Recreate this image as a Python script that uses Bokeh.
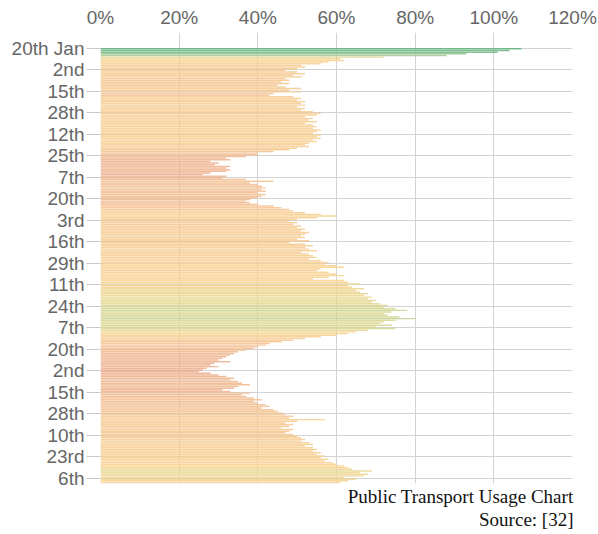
from bokeh.plotting import figure
from bokeh.models import (Range1d, FixedTicker, PrintfTickFormatter, Title,
                          ColumnDataSource, LinearColorMapper)
from bokeh.transform import transform
from bokeh.embed import file_html
from bokeh.resources import INLINE

# Daily public transport usage (% of normal), one value per day from 20th Jan
usage_pct = [
    107, 104, 101, 93, 88, 72, 61, 62, 58, 56,
    51, 52, 50, 47, 50, 52, 49, 51, 47, 48,
    46, 48, 45, 47, 51, 48, 51, 44, 43, 49,
    51, 50, 52, 51, 52, 50, 52, 51, 54, 56,
    55, 52, 54, 53, 55, 52, 54, 55, 54, 56,
    55, 54, 56, 55, 56, 54, 55, 53, 52, 53,
    50, 48, 44, 40, 40, 37, 32, 33, 28, 30,
    29, 33, 32, 33, 32, 28, 26, 32, 31, 37,
    44, 38, 40, 41, 42, 41, 42, 40, 42, 41,
    40, 38, 37, 38, 40, 44, 46, 48, 49, 52,
    56, 60, 55, 50, 48, 50, 49, 51, 50, 52,
    51, 53, 52, 51, 52, 50, 53, 48, 52, 54,
    52, 53, 55, 51, 53, 54, 55, 53, 56, 58,
    57, 60, 62, 56, 55, 58, 60, 62, 58, 54,
    62, 63, 66, 63, 64, 67, 65, 66, 68, 67,
    69, 68, 70, 69, 71, 73, 72, 75, 78, 74,
    72, 73, 76, 80, 75, 72, 71, 74, 70, 75,
    68, 65, 63, 60, 56, 52, 49, 46, 43, 42,
    40, 39, 37, 35, 34, 33, 32, 31, 30, 33,
    29, 28, 30, 27, 26, 25, 28, 30, 32, 34,
    33, 35, 36, 38, 35, 34, 31, 33, 38, 36,
    37, 39, 41, 39, 40, 42, 43, 41, 44, 45,
    46, 47, 49, 48, 57, 50, 47, 49, 48, 46,
    49, 48, 47, 49, 50, 51, 52, 51, 53, 54,
    52, 54, 55, 54, 56, 55, 57, 56, 58, 57,
    59, 60, 62, 63, 64, 69, 66, 68, 67, 62,
    65, 63, 61,
]

tick_labels = ["20th Jan", "2nd", "15th", "28th", "12th", "25th", "7th",
               "20th", "3rd", "16th", "29th", "11th", "24th", "7th", "20th",
               "2nd", "15th", "28th", "10th", "23rd", "6th"]
tick_step_days = 13

x_ticks = [0, 20, 40, 60, 80, 100, 120]

caption_lines = ["Public Transport Usage Chart", "Source: [32]"]

# ---------------------------------------------------------------
n = len(usage_pct)
day_idx = list(range(n))
src = ColumnDataSource(dict(
    y=[d + 0.5 for d in day_idx],
    v=usage_pct,
))

# colour scale (red-yellow-green, pastel)
anchors = [
    (20, (237, 174, 150)),
    (30, (240, 186, 155)),
    (40, (244, 198, 158)),
    (50, (247, 208, 158)),
    (62, (248, 216, 156)),
    (70, (232, 220, 158)),
    (78, (210, 218, 160)),
    (90, (168, 205, 158)),
    (100, (135, 195, 150)),
    (110, (112, 184, 140)),
]
alpha = 0.9
lo, hi = anchors[0][0], anchors[-1][0]
palette = []
for k in range(256):
    t = lo + (hi - lo) * k / 255
    for (a0, c0), (a1, c1) in zip(anchors[:-1], anchors[1:]):
        if a0 <= t <= a1:
            f = (t - a0) / (a1 - a0)
            c = [c0[j] + (c1[j] - c0[j]) * f for j in range(3)]
            break
    c = [max(0, min(255, round((cj - (1 - alpha) * 255) / alpha))) for cj in c]
    palette.append("#%02x%02x%02x" % tuple(c))
mapper = LinearColorMapper(palette=palette, low=lo, high=hi)

tick_pos = [i * tick_step_days for i in range(len(tick_labels))]

W, H = 598, 534
p = figure(width=W, height=H, output_backend="svg", toolbar_location=None,
           x_axis_location="above",
           x_range=Range1d(0, 120), y_range=Range1d(263.1, -9.37),
           min_border_left=100, min_border_right=26,
           min_border_top=32, min_border_bottom=51)

p.hbar(y="y", left=0, right="v", height=0.88, source=src,
       fill_color=transform("v", mapper), fill_alpha=alpha, line_color=None)

font = "Liberation Sans"
lab_col = "#666666"
grid_col = "#d2d2d2"

xa = p.xaxis[0]
xa.ticker = FixedTicker(ticks=x_ticks)
xa.formatter = PrintfTickFormatter(format="%d%%")
xa.major_label_text_font = font
xa.major_label_text_font_size = "19px"
xa.major_label_text_color = lab_col
xa.major_label_standoff = 5
xa.major_tick_out = 0
xa.major_tick_in = 0
xa.minor_tick_out = 0
xa.minor_tick_in = 0
xa.axis_line_color = None

ya = p.yaxis[0]
ya.ticker = FixedTicker(ticks=tick_pos)
ya.major_label_overrides = {tp: lab for tp, lab in zip(tick_pos, tick_labels)}
ya.major_label_text_font = font
ya.major_label_text_font_size = "19px"
ya.major_label_text_color = lab_col
ya.major_label_standoff = 2
ya.major_tick_out = 14
ya.major_tick_in = 0
ya.major_tick_line_color = "#c8c8c8"
ya.minor_tick_out = 0
ya.minor_tick_in = 0
ya.axis_line_color = None

p.xgrid.ticker = FixedTicker(ticks=x_ticks)
p.ygrid.ticker = FixedTicker(ticks=tick_pos)
p.xgrid.grid_line_color = grid_col
p.ygrid.grid_line_color = grid_col
p.outline_line_color = None

for line in caption_lines:
    p.add_layout(Title(text=line, align="right", standoff=0, offset=-1,
                       text_font="Liberation Serif", text_font_size="19px",
                       text_font_style="normal", text_color="#111111"), "below")

open("out.html", "w").write(file_html(p, INLINE))
